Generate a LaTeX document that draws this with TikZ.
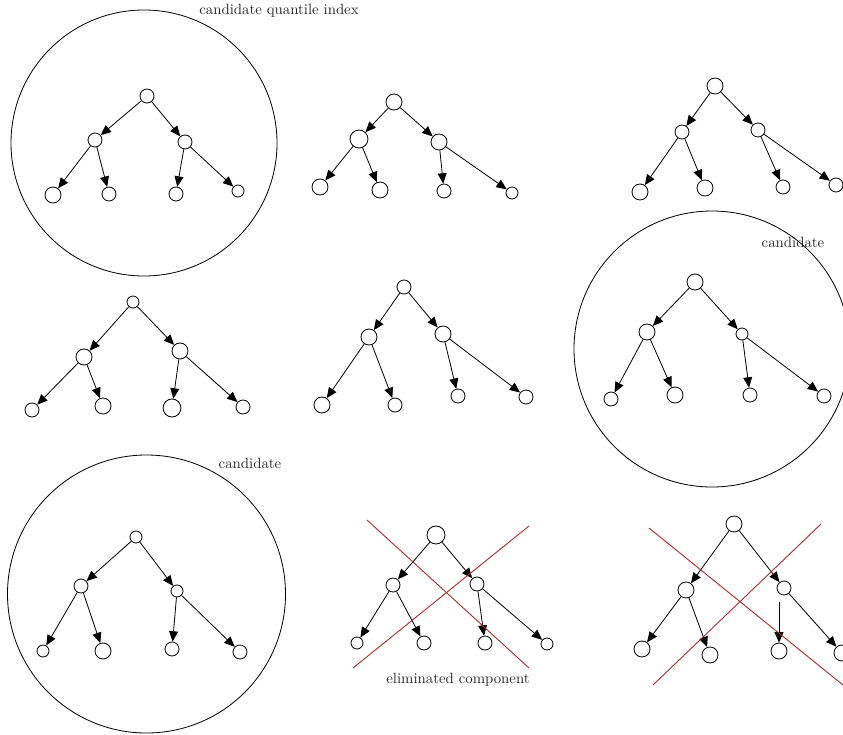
\documentclass[tikz,border=0pt]{standalone}
\usetikzlibrary{arrows.meta}
\definecolor{elim}{RGB}{170,40,40}
\begin{document}
\begin{tikzpicture}[x=0.675pt,y=-0.675pt,
  nd/.style={circle,draw,line width=0.55pt,inner sep=0pt,minimum size=#1*1.35pt},
  edge/.style={line width=0.55pt,-{Triangle[length=7pt,width=6pt]}},
  group/.style={line width=0.55pt},
  cross/.style={draw=elim,line width=0.6pt},
  lab/.style={text=black!85,inner sep=0pt}]
\useasboundingbox (0,0) rectangle (843,734);

% ---------- tree 1 ----------
\draw[group] (144,143) circle [radius=133];
\node[lab] (t1) at (279,11) {candidate quantile index};
\node[nd=7] (a0) at (147,96) {};
\node[nd=7] (a1) at (95,140) {};
\node[nd=7] (a2) at (185,142) {};
\node[nd=8] (a3) at (53,195) {};
\node[nd=7] (a4) at (109,194) {};
\node[nd=7] (a5) at (176,194) {};
\node[nd=6] (a6) at (238,191) {};
\foreach \p/\c in {a0/a1,a0/a2,a1/a3,a1/a4,a2/a5,a2/a6} \draw[edge] (\p) -- (\c);

% ---------- tree 2 ----------
\node[nd=8] (b0) at (394,102) {};
\node[nd=9] (b1) at (359,139) {};
\node[nd=8] (b2) at (439,142) {};
\node[nd=8] (b3) at (320,187) {};
\node[nd=8] (b4) at (380,190) {};
\node[nd=7] (b5) at (444,191) {};
\node[nd=6] (b6) at (512,193) {};
\foreach \p/\c in {b0/b1,b0/b2,b1/b3,b1/b4,b2/b5,b2/b6} \draw[edge] (\p) -- (\c);

% ---------- tree 3 ----------
\node[nd=8] (c0) at (715,86) {};
\node[nd=7] (c1) at (682,132) {};
\node[nd=7] (c2) at (758,130) {};
\node[nd=8] (c3) at (640,192) {};
\node[nd=8] (c4) at (705,188) {};
\node[nd=7] (c5) at (783,187) {};
\node[nd=7] (c6) at (836,185) {};
\foreach \p/\c in {c0/c1,c0/c2,c1/c3,c1/c4,c2/c5,c2/c6} \draw[edge] (\p) -- (\c);

% ---------- tree 4 ----------
\node[nd=6] (d0) at (133,302) {};
\node[nd=8] (d1) at (84,357) {};
\node[nd=8] (d2) at (180,351) {};
\node[nd=7] (d3) at (32,410) {};
\node[nd=8] (d4) at (103,406) {};
\node[nd=9] (d5) at (172,408) {};
\node[nd=7] (d6) at (243,407) {};
\foreach \p/\c in {d0/d1,d0/d2,d1/d3,d1/d4,d2/d5,d2/d6} \draw[edge] (\p) -- (\c);

% ---------- tree 5 ----------
\node[nd=7] (e0) at (404,287) {};
\node[nd=8] (e1) at (369,337) {};
\node[nd=8] (e2) at (443,334) {};
\node[nd=8] (e3) at (322,405) {};
\node[nd=7] (e4) at (395,405) {};
\node[nd=7] (e5) at (458,396) {};
\node[nd=7] (e6) at (526,397) {};
\foreach \p/\c in {e0/e1,e0/e2,e1/e3,e1/e4,e2/e5,e2/e6} \draw[edge] (\p) -- (\c);

% ---------- tree 6 ----------
\draw[group] (712,349) circle [radius=138];
\node[lab] (t6) at (793,242) {candidate};
\node[nd=8] (f0) at (695,282) {};
\node[nd=8] (f1) at (647,332) {};
\node[nd=6] (f2) at (742,334) {};
\node[nd=7] (f3) at (611,399) {};
\node[nd=8] (f4) at (675,395) {};
\node[nd=7] (f5) at (750,395) {};
\node[nd=7] (f6) at (824,396) {};
\foreach \p/\c in {f0/f1,f0/f2,f1/f3,f1/f4,f2/f5,f2/f6} \draw[edge] (\p) -- (\c);

% ---------- tree 7 ----------
\draw[group] (146.5,594) circle [radius=139];
\node[lab] (t7) at (250,463) {candidate};
\node[nd=6] (g0) at (136,537) {};
\node[nd=7] (g1) at (81,586) {};
\node[nd=6] (g2) at (177,591) {};
\node[nd=6] (g3) at (43,651) {};
\node[nd=8] (g4) at (103,651) {};
\node[nd=7] (g5) at (172,649) {};
\node[nd=7] (g6) at (240,652) {};
\foreach \p/\c in {g0/g1,g0/g2,g1/g3,g1/g4,g2/g5,g2/g6} \draw[edge] (\p) -- (\c);

% ---------- tree 8 ----------
\node[nd=9] (h0) at (436,535) {};
\node[nd=7] (h1) at (393,585) {};
\node[nd=7] (h2) at (477,584) {};
\node[nd=6] (h3) at (357,643) {};
\node[nd=7] (h4) at (424,643) {};
\node[nd=7] (h5) at (485,643) {};
\node[nd=6] (h6) at (547,644) {};
\foreach \p/\c in {h0/h1,h0/h2,h1/h3,h1/h4,h2/h5,h2/h6} \draw[edge] (\p) -- (\c);
\coordinate (x1a) at (367,520); \coordinate (x1b) at (529,668);
\coordinate (x2a) at (353,668); \coordinate (x2b) at (529,526);
\draw[cross] (x1a) -- (x1b);
\draw[cross] (x2a) -- (x2b);
\node[lab] (t8) at (458,680) {eliminated component};

% ---------- tree 9 ----------
\node[nd=8] (i0) at (734,524) {};
\node[nd=8] (i1) at (686,590) {};
\node[nd=7] (i2) at (784,588) {};
\node[nd=8] (i3) at (642,649) {};
\node[nd=8] (i4) at (710,655) {};
\node[nd=8] (i5) at (779,651) {};
\node[nd=8] (i6) at (842,653) {};
\foreach \p/\c in {i0/i1,i0/i2,i1/i3,i1/i4,i2/i6} \draw[edge] (\p) -- (\c);
\coordinate (i2s) at (779,602);
\draw[edge] (i2s) -- (i5);
\coordinate (y1a) at (649,528); \coordinate (y1b) at (843,685);
\coordinate (y2a) at (653,685); \coordinate (y2b) at (821,524);
\draw[cross] (y1a) -- (y1b);
\draw[cross] (y2a) -- (y2b);
\end{tikzpicture}
\end{document}
